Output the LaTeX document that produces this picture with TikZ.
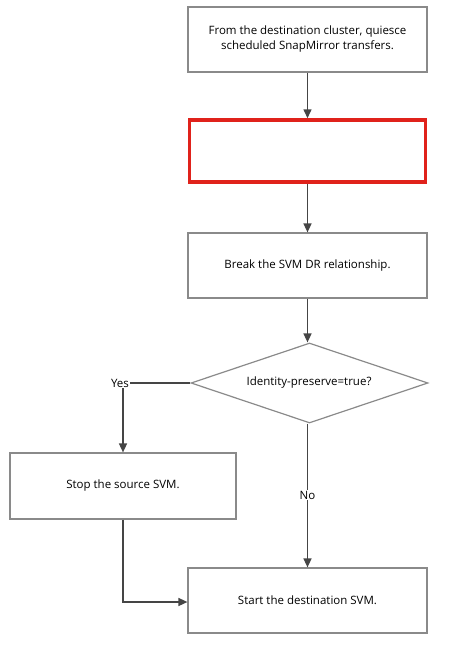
\documentclass[tikz,border=0pt]{standalone}
\usepackage{fontspec}
\setmainfont{Open Sans}
\usetikzlibrary{arrows.meta,shapes.geometric}
\definecolor{boxline}{HTML}{8A8A8A}
\definecolor{conn}{HTML}{454545}
\definecolor{redline}{HTML}{E0221B}
\begin{document}
\begin{tikzpicture}[x=1pt,y=-1pt,
  box/.style={draw=boxline,line width=1.2pt,fill=white,minimum width=239pt,minimum height=65pt,font=\fontsize{11.5}{15}\selectfont,align=center,inner sep=0pt},
  conn/.style={draw=conn,line width=1.5pt},
  arr/.style={conn,-{Triangle[length=9pt,width=8pt]}},
  lbl/.style={font=\fontsize{11.5}{13}\selectfont,inner sep=1pt,fill=white}]
\useasboundingbox (0,0) rectangle (455,651);
\node[box] (b1) at (307.5,39.5) {From the destination cluster, quiesce\\scheduled SnapMirror transfers.};
\node[box,draw=redline,line width=3.5pt,minimum width=236pt,minimum height=62pt] (b2) at (307.5,151) {};
\node[box] (b3) at (307.5,265.5) {Break the SVM DR relationship.};
\node[draw=boxline,line width=1.2pt,fill=white,diamond,aspect=3,minimum width=237pt,minimum height=80pt,inner sep=0pt] (d) at (309.5,383) {};
\node[font=\fontsize{11.5}{15}\selectfont] at (309,383) {Identity-preserve=true?};
\node[box,minimum width=226pt,minimum height=66pt] (b4) at (123,486) {Stop the source SVM.};
\node[box] (b5) at (307.5,600.5) {Start the destination SVM.};
\node[lbl] (yes) at (120,383) {Yes};
\node[lbl] (no) at (307.5,495) {No};
\draw[arr] (b1.south) -- (b2.north);
\draw[arr] (b2.south) -- (b3.north);
\draw[arr] (b3.south) -- (b3.south |- d.north);
\draw[conn] (d.west) -- (yes.east);
\draw[arr] (yes.south -| b4.north) -- (b4.north);
\draw[conn] (no.north |- d.south) -- (no.north);
\draw[arr] (no.south) -- (b5.north);
\coordinate (corner) at (b4.south |- 0,602);
\draw[arr] (b4.south) -- (corner) -- (corner -| b5.west);
\end{tikzpicture}
\end{document}
